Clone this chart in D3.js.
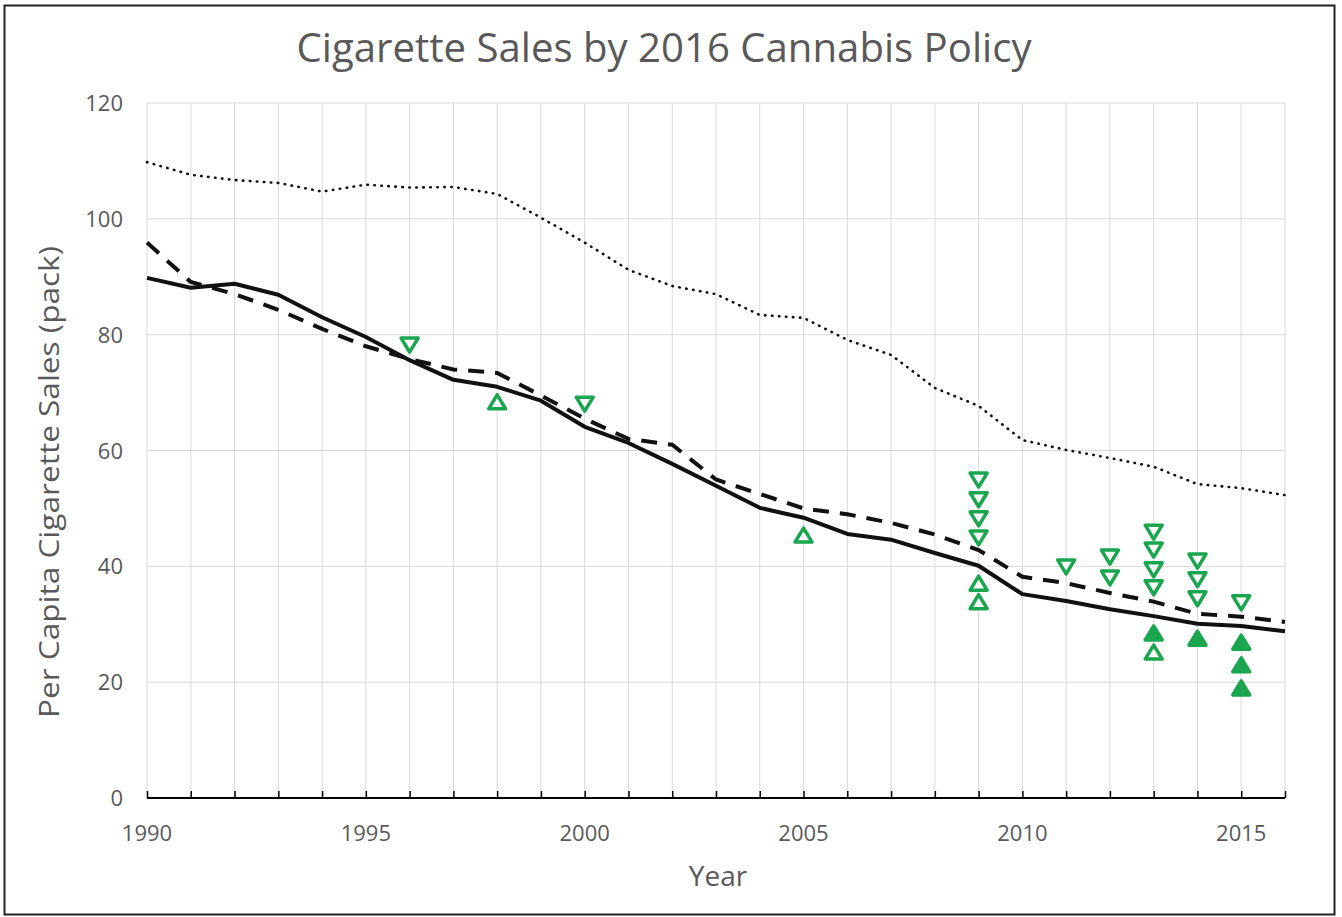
<!DOCTYPE html>
<html>
<head>
<meta charset="utf-8">
<script src="https://cdn.jsdelivr.net/npm/d3@7"></script>
<style>
  body { margin: 0; background: #fff; }
  text { font-family: "Open Sans", Lato, sans-serif; fill: #595959; }
</style>
</head>
<body>
<svg id="chart" width="1342" height="917"></svg>
<script>
// years 1990..2016
var years = d3.range(1990, 2017);

// per capita sales (packs)
var solidLine = [89.8, 88.1, 88.8, 86.9, 83.0, 79.6, 75.6, 72.2, 71.0, 68.6, 64.1, 61.3, 57.7, 53.9,
  50.1, 48.4, 45.6, 44.6, 42.3, 40.1, 35.2, 34.0, 32.6, 31.4, 30.1, 29.7, 28.8];
var dashedLine = [95.9, 89.1, 87.0, 84.3, 81.0, 78.0, 75.8, 74.0, 73.4, 69.5, 65.5, 62.0, 61.0, 55.0,
  52.5, 50.0, 49.0, 47.5, 45.5, 42.8, 38.2, 37.1, 35.4, 33.9, 31.8, 31.3, 30.4];
var dottedLine = [109.8, 107.6, 106.7, 106.2, 104.7, 105.9, 105.4, 105.5, 104.3, 100.2, 95.9, 91.2, 88.4,
  87.0, 83.4, 82.9, 79.1, 76.5, 70.8, 67.7, 61.8, 60.1, 58.7, 57.2, 54.2, 53.5, 52.3];

// state markers: [year, value]
var downOpen = [[1996, 78.2], [2000, 68.0], [2009, 54.9], [2009, 51.5], [2009, 48.2], [2009, 44.9],
  [2011, 39.9], [2012, 41.6], [2012, 38.0], [2013, 45.9], [2013, 42.8], [2013, 39.4], [2013, 36.3],
  [2014, 40.9], [2014, 37.7], [2014, 34.4], [2015, 33.7]];
var upOpen = [[1998, 68.4], [2005, 45.4], [2009, 37.1], [2009, 33.9], [2013, 25.2]];
var upFilled = [[2013, 28.5], [2014, 27.6], [2015, 26.9], [2015, 23.0], [2015, 19.0]];

var yTicks = [0, 20, 40, 60, 80, 100, 120];
var xLabels = [1990, 1995, 2000, 2005, 2010, 2015];

var svg = d3.select("#chart");
var plotL = 147, plotR = 1285, plotT = 103, plotB = 798;
var green = "#1aa64e";

var x = d3.scaleLinear().domain([1990, 2016]).range([plotL, plotR]);
var y = d3.scaleLinear().domain([0, 120]).range([plotB, plotT]);

// outer border
svg.append("rect")
  .attr("x", 4.5).attr("y", 5.5).attr("width", 1330).attr("height", 909)
  .attr("fill", "none").attr("stroke", "#222").attr("stroke-width", 2);

// grid
svg.append("g").selectAll("line").data(yTicks.slice(1)).enter().append("line")
  .attr("x1", plotL).attr("x2", plotR)
  .attr("y1", function(d) { return y(d); }).attr("y2", function(d) { return y(d); })
  .attr("stroke", "#d9d9d9").attr("stroke-width", 1);
svg.append("g").selectAll("line").data(years).enter().append("line")
  .attr("x1", function(d) { return x(d); }).attr("x2", function(d) { return x(d); })
  .attr("y1", plotT).attr("y2", plotB)
  .attr("stroke", "#d9d9d9").attr("stroke-width", 1);

// x axis (ticks point up)
var xAxis = d3.axisTop(x).tickValues(years).tickSize(7).tickFormat("");
var gx = svg.append("g").attr("transform", "translate(0," + plotB + ")").call(xAxis);
gx.select(".domain").attr("stroke", "#000").attr("stroke-width", 2).attr("d", "M" + plotL + ",0H" + plotR);
gx.selectAll(".tick line").attr("stroke", "#000").attr("stroke-width", 1.5);

svg.append("g").selectAll("text").data(xLabels).enter().append("text")
  .attr("x", function(d) { return x(d); }).attr("y", 841)
  .attr("text-anchor", "middle").attr("font-size", 22)
  .text(function(d) { return d; });

// y labels
svg.append("g").selectAll("text").data(yTicks).enter().append("text")
  .attr("x", 123).attr("y", function(d) { return y(d) + 8; })
  .attr("text-anchor", "end").attr("font-size", 22)
  .text(function(d) { return d; });

// titles
svg.append("text").attr("x", 664).attr("y", 62).attr("text-anchor", "middle")
  .attr("font-size", 40).attr("textLength", 735).attr("lengthAdjust", "spacingAndGlyphs")
  .text("Cigarette Sales by 2016 Cannabis Policy");
svg.append("text").attr("x", 718).attr("y", 886).attr("text-anchor", "middle")
  .attr("font-size", 28).text("Year");
svg.append("text").attr("transform", "translate(59,482) rotate(-90)").attr("text-anchor", "middle")
  .attr("font-size", 28).attr("textLength", 472).attr("lengthAdjust", "spacingAndGlyphs")
  .text("Per Capita Cigarette Sales (pack)");

// lines
var line = d3.line()
  .x(function(d, i) { return x(years[i]); })
  .y(function(d) { return y(d); });

svg.append("path").datum(dottedLine).attr("d", line)
  .attr("fill", "none").attr("stroke", "#111").attr("stroke-width", 2.6)
  .attr("stroke-dasharray", "0.5,6.5").attr("stroke-linecap", "round");
svg.append("path").datum(dashedLine).attr("d", line)
  .attr("fill", "none").attr("stroke", "#111").attr("stroke-width", 4)
  .attr("stroke-dasharray", "16,11");
svg.append("path").datum(solidLine).attr("d", line)
  .attr("fill", "none").attr("stroke", "#111").attr("stroke-width", 4)
  .attr("stroke-linejoin", "round");

// markers
function tri(up) {
  var w = 8.5, h = 7;
  return up ? "M0," + (-h) + "L" + w + "," + h + "L" + (-w) + "," + h + "Z"
            : "M0," + h + "L" + w + "," + (-h) + "L" + (-w) + "," + (-h) + "Z";
}
function drawMarkers(data, up, filled) {
  svg.append("g").selectAll("path").data(data).enter().append("path")
    .attr("transform", function(d) { return "translate(" + x(d[0]) + "," + y(d[1]) + ")"; })
    .attr("d", tri(up))
    .attr("fill", filled ? green : "#fff")
    .attr("stroke", green).attr("stroke-width", 3.5).attr("stroke-linejoin", "round");
}
drawMarkers(downOpen, false, false);
drawMarkers(upOpen, true, false);
drawMarkers(upFilled, true, true);
</script>
</body>
</html>
